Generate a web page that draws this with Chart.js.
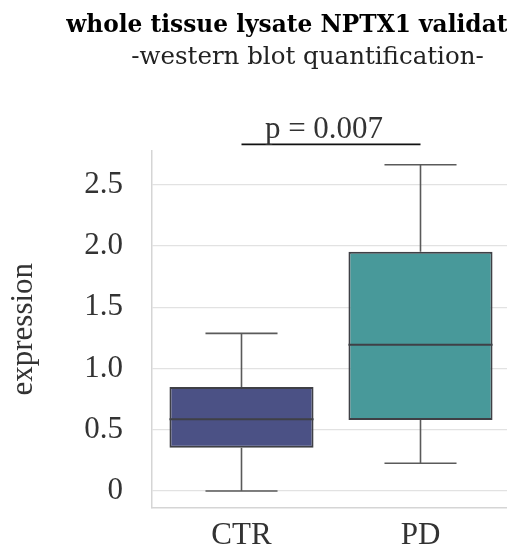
<!DOCTYPE html>
<html>
<head>
<meta charset="utf-8">
<script src="https://cdn.jsdelivr.net/npm/chart.js@4.4.0/dist/chart.umd.min.js"></script>
<style>
  html, body { margin: 0; padding: 0; background: #fff; }
  #wrap { width: 507px; height: 547px; overflow: hidden; }
</style>
</head>
<body>
<div id="wrap"><canvas id="box" width="615" height="547"></canvas></div>
<script>
var categories = ['CTR', 'PD'];
var q1 = [0.353, 0.579];
var q3 = [0.848, 1.952];
var medians = [0.585, 1.193];
var whiskerLow = [0.0, 0.226];
var whiskerHigh = [1.286, 2.662];
var boxColors = ['#4b5185', '#48999a'];
var pLabel = 'p = 0.007';

var serif = 'Liberation Serif';
var titleFont = 'DejaVu Serif';

// whiskers, caps, medians and the p value bracket
var boxExtras = {
    id: 'boxExtras',
    afterDatasetsDraw(chart) {
        const ctx = chart.ctx;
        const x = chart.scales.x;
        const y = chart.scales.y;
        const meta = chart.getDatasetMeta(0);
        ctx.save();
        for (let i = 0; i < categories.length; i++) {
            const bar = meta.data[i];
            const cx = bar.x;
            const half = bar.width / 2;
            ctx.strokeStyle = '#5a5a5a';
            ctx.lineWidth = 1.6;
            ctx.beginPath();
            ctx.moveTo(cx, y.getPixelForValue(q3[i]));
            ctx.lineTo(cx, y.getPixelForValue(whiskerHigh[i]));
            ctx.moveTo(cx, y.getPixelForValue(q1[i]));
            ctx.lineTo(cx, y.getPixelForValue(whiskerLow[i]));
            ctx.moveTo(cx - half / 2, y.getPixelForValue(whiskerHigh[i]));
            ctx.lineTo(cx + half / 2, y.getPixelForValue(whiskerHigh[i]));
            ctx.moveTo(cx - half / 2, y.getPixelForValue(whiskerLow[i]));
            ctx.lineTo(cx + half / 2, y.getPixelForValue(whiskerLow[i]));
            ctx.stroke();
            ctx.strokeStyle = '#3f4046';
            ctx.lineWidth = 2;
            ctx.beginPath();
            ctx.moveTo(cx - half, y.getPixelForValue(medians[i]));
            ctx.lineTo(cx + half, y.getPixelForValue(medians[i]));
            ctx.stroke();
        }
        const x0 = x.getPixelForValue(0);
        const x1 = x.getPixelForValue(1);
        const ly = chart.chartArea.top - 6;
        ctx.strokeStyle = '#111';
        ctx.lineWidth = 1.6;
        ctx.beginPath();
        ctx.moveTo(x0, ly);
        ctx.lineTo(x1, ly);
        ctx.stroke();
        ctx.fillStyle = '#333';
        ctx.font = '31px "' + serif + '"';
        ctx.textAlign = 'center';
        ctx.textBaseline = 'alphabetic';
        ctx.fillText(pLabel, (x0 + x1) / 2 - 7, ly - 6);
        ctx.restore();
    }
};

new Chart(document.getElementById('box'), {
    type: 'bar',
    data: {
        labels: categories,
        datasets: [{
            data: categories.map((c, i) => [q1[i], q3[i]]),
            backgroundColor: boxColors,
            borderColor: '#3f4046',
            borderWidth: 2,
            borderSkipped: false,
            barPercentage: 0.805,
            categoryPercentage: 1.0
        }]
    },
    options: {
        responsive: false,
        animation: false,
        plugins: {
            legend: { display: false },
            tooltip: { enabled: false },
            title: {
                display: true,
                text: 'whole tissue lysate NPTX1 validation',
                color: '#000',
                font: { family: titleFont, size: 23.3, weight: 'bold', lineHeight: 1.2 },
                padding: { top: 12, bottom: 0 }
            },
            subtitle: {
                display: true,
                text: '-western blot quantification-',
                color: '#222',
                font: { family: titleFont, size: 24.5, lineHeight: 1.2 },
                padding: { top: 3, bottom: 78 }
            }
        },
        scales: {
            x: {
                grid: { display: false },
                border: { display: true, color: '#d5d5d5', width: 1.5 },
                ticks: { color: '#333', font: { family: serif, size: 31 }, padding: 1 },
                afterFit(scale) {
                    scale.height = 39;
                    scale.paddingLeft = 0;
                    scale.paddingRight = 0;
                }
            },
            y: {
                min: -0.139,
                max: 2.779,
                grid: { color: '#e2e2e2', lineWidth: 1.2, drawTicks: false },
                border: { display: true, color: '#d5d5d5', width: 1.5 },
                ticks: {
                    stepSize: 0.5,
                    includeBounds: false,
                    padding: 29,
                    color: '#333',
                    font: { family: serif, size: 31 },
                    callback: v => v === 0 ? '0' : v.toFixed(1)
                },
                title: {
                    display: true,
                    text: 'expression',
                    color: '#333',
                    font: { family: serif, size: 31, lineHeight: 1 },
                    padding: { top: 8, bottom: 0 }
                },
                afterFit(scale) {
                    scale.width = 152;
                    scale.paddingTop = 0;
                    scale.paddingBottom = 0;
                }
            },
            yRight: {
                position: 'right',
                display: true,
                grid: { display: false },
                border: { display: false },
                ticks: { display: false },
                afterFit(scale) {
                    scale.width = 105;
                    scale.paddingTop = 0;
                    scale.paddingBottom = 0;
                }
            }
        }
    },
    plugins: [boxExtras]
});
</script>
</body>
</html>
